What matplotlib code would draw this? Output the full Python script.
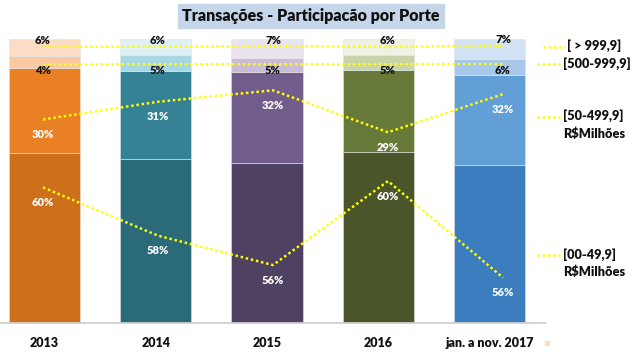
import matplotlib
matplotlib.use("Agg")
import matplotlib.pyplot as plt
from matplotlib.lines import Line2D
import numpy as np

plt.rcParams['font.family'] = ['Lato', 'DejaVu Sans']

categorias = ['2013', '2014', '2015', '2016', 'jan. a nov. 2017']
faixa_00_49 = [59.9, 57.6, 56.2, 60.2, 55.6]
faixa_50_499 = [29.8, 31.2, 32.1, 28.8, 31.8]
faixa_500_999 = [4.4, 5.4, 5.1, 5.3, 5.7]
faixa_999 = [5.9, 5.8, 6.6, 5.7, 6.9]

# cores por ano: de baixo para cima
cores = [
    ['#cd6f1b', '#e98026', '#f8c9a3', '#fcdcc4'],
    ['#2b6a78', '#348293', '#a9d6e3', '#dff0f5'],
    ['#4f4161', '#715d8c', '#c8bcd6', '#e9e4f0'],
    ['#4a552a', '#677a39', '#c9d4a8', '#eef1e4'],
    ['#3b7dbf', '#619fd6', '#a7c8ea', '#d2e1f3'],
]

W, H = 640, 352
fig = plt.figure(figsize=(W / 100, H / 100), dpi=100)
rect = [0, 29 / H, 545 / W, 284 / H]
ax = fig.add_axes(rect)

series = [faixa_00_49, faixa_50_499, faixa_500_999, faixa_999]
x = np.arange(len(categorias))
total = np.sum(series, axis=0)
base = np.zeros(len(categorias))
for k, s in enumerate(series):
    h = np.array(s) / total * 100
    ax.bar(x, h, width=0.64, bottom=base,
           color=[cores[i][k] for i in range(len(categorias))],
           edgecolor='#e4e4e4', linewidth=0.4)
    base += h

ax.set_xlim(-0.40, 4.50)
ax.set_ylim(0, 100)
ax.set_xticks(x)
ax.set_xticklabels(categorias, fontsize=9, fontweight='heavy', color='#111111')
ax.tick_params(axis='x', length=0, pad=10)
ax.set_yticks([])
for side in ['top', 'left', 'right']:
    ax.spines[side].set_visible(False)
ax.spines['bottom'].set_color('#cfcfcf')
ax.spines['bottom'].set_linewidth(1.3)

# linhas pontilhadas, cada uma em sua propria escala
escalas = [(53.44, 66.97), (13.78, 36.14), (-512.2, 55.8), (-270.4, 13.6)]
desloc = [-15, -15, -6, 6]
cor_rot = ['white', 'white', '#111111', '#111111']
xl = np.arange(len(categorias))
for s, lim, dy, cr in zip(series, escalas, desloc, cor_rot):
    axl = fig.add_axes(rect)
    axl.set_xlim(-0.374, 4.365)
    axl.set_ylim(*lim)
    axl.axis('off')
    axl.patch.set_alpha(0)
    axl.plot(xl, s, linestyle=(0, (1, 1.1)), color='#ffff00', linewidth=1.8)
    for xi, v in zip(xl, s):
        axl.annotate(f'{v:.0f}%', (xi, v), xytext=(0, dy),
                     textcoords='offset pixels', ha='center', va='center',
                     fontsize=8, fontweight='heavy', color=cr)


def fx(px):
    return px / W


def fy(py):
    return 1 - py / H


# legenda a direita
legenda = [
    (543, 565, 46.7, 567, '[ > 999,9]'),
    (537, 560, 64.3, 563, '[500-999,9]'),
    (537, 560, 116.7, 563, '[50-499,9]\nR$Milhões'),
    (537, 560, 255.0, 563, '[00-49,9]\nR$Milhões'),
]
for x0, x1, yy, xt, txt in legenda:
    fig.add_artist(Line2D([fx(x0), fx(x1)], [fy(yy), fy(yy)],
                          linestyle=(0, (1, 1.1)), color='#ffff00', linewidth=1.8))
    fig.text(fx(xt), fy(yy - 7), txt, ha='left', va='top', fontsize=9.2,
             fontweight='heavy', color='#111111', linespacing=1.45)

fig.add_artist(Line2D([fx(547)], [fy(343)], marker='s', markersize=2.5,
                      color='#fcdcc4', linestyle='none'))

fig.text(fx(311), fy(16), 'Transações - Participacão por Porte', ha='center',
         va='center', fontsize=11.5, fontweight='heavy', color='#111111',
         bbox=dict(boxstyle='square,pad=0.25', facecolor='#c6d6ea',
                   edgecolor='#c6d6ea'))

fig.savefig('out.png', dpi=100)
